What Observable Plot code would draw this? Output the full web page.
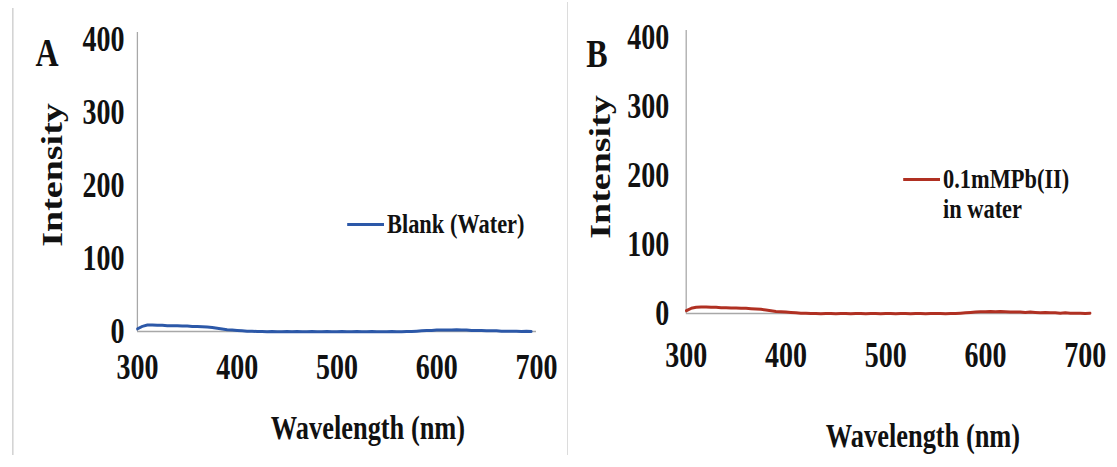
<!DOCTYPE html>
<html><head><meta charset="utf-8">
<script src="https://cdn.jsdelivr.net/npm/d3@7"></script>
<script src="https://cdn.jsdelivr.net/npm/@observablehq/plot@0.6"></script>
<style>
html,body{margin:0;padding:0;background:#fff;}
body{width:1117px;height:467px;overflow:hidden;position:relative;}
#stage{position:absolute;left:0;top:0;width:1396.25px;height:467px;transform:scaleX(0.8);transform-origin:0 0;
  font-family:"Liberation Serif","Times New Roman",serif;font-weight:bold;color:#111;}
.abs{position:absolute;white-space:nowrap;}
.panel{position:absolute;top:0;}
.vline{position:absolute;width:1.5px;background:#d4d4d4;}
</style></head><body><div id="stage"></div>
<script>
// ---- data ----
const wavelengthsA = [300,305,310,315,320,325,330,335,340,345,350,355,360,365,370,375,380,385,390,395,
  400,405,410,415,420,425,430,435,440,445,450,455,460,465,470,475,480,485,490,495,
  500,505,510,515,520,525,530,535,540,545,550,555,560,565,570,575,580,585,590,595,
  600,605,610,615,620,625,630,635,640,645,650,655,660,665,670,675,680,685,690,695];
const intensityBlank = [3.5,7,9,9,8.5,8.5,8,8,8,7.5,7.5,7,7,6.5,6,5.5,4.5,3.5,2.5,2,
  1.5,1,0.5,0.5,0,0,-0.5,0,-0.5,-0.5,0,-0.5,0,-0.5,-0.5,0,-0.5,-0.5,0,-0.5,
  -0.5,0,-0.5,-0.5,0,-0.5,-0.5,0,-0.5,-0.5,-0.5,0,-0.5,-0.5,0,0,0.5,1,1.5,1.5,
  2,2,2,2,2.5,2,2,1.5,1.5,1.5,1,1,1,0.5,0.5,0.5,0.5,0,0.5,0];

const wavelengthsB = [300,305,310,315,320,325,330,335,340,345,350,355,360,365,370,375,380,385,390,395,
  400,405,410,415,420,425,430,435,440,445,450,455,460,465,470,475,480,485,490,495,
  500,505,510,515,520,525,530,535,540,545,550,555,560,565,570,575,580,585,590,595,
  600,605,610,615,620,625,630,635,640,645,650,655,660,665,670,675,680,685,690,695,700,705];
const intensityPb = [4,7.5,9,9.5,9.5,9,9,8.5,8.5,8,8,7.5,7.5,7,6.5,6,5,4,3,2.5,
  2,1.5,1,0.5,0.5,0,0,-0.5,0,0,-0.5,0,0,-0.5,0,0,-0.5,0,0,-0.5,
  0,0,-0.5,0,0,-0.5,0,0,-0.5,0,0,0,-0.5,0,0,0.5,1,1.5,2,2.5,
  2.5,3,2.5,3,2.5,2,2,2,1.5,2,1.5,1,1.5,1,1,0.5,1,0.5,0.5,0.5,0,0.5];

const yTicks = [0,100,200,300,400];
const xTicks = [300,400,500,600,700];
const yDomain = [0,400];
const xDomain = [300,700];

// ---- layout (pre-compression pixels; stage is scaled 0.8 horizontally) ----
const C = 0.8;
const S = v => v / C;
const stage = document.getElementById("stage");
const FONT = '"Liberation Serif","Times New Roman",serif';

function panel(xs, ys, color, o) {
  const data = xs.map((w, i) => ({w, v: ys[i]}));
  return Plot.plot({
    width: o.width, height: 467,
    marginLeft: o.ml, marginRight: o.mr, marginTop: o.mt, marginBottom: o.mb,
    style: {fontFamily: FONT, fontSize: "35px", fontWeight: "bold", color: "#111",
            background: "transparent", overflow: "visible", maxWidth: "none"},
    x: {domain: xDomain},
    y: {domain: yDomain},
    marks: [
      Plot.ruleY([0], {stroke: "#a8a8a8", strokeWidth: 1.3}),
      Plot.ruleX([300], {stroke: "#a8a8a8", strokeWidth: 1.6, insetTop: -7}),
      Plot.axisY(yTicks, {tickSize: 0, tickPadding: o.yPad, label: null}),
      Plot.axisX(xTicks, {tickSize: 0, tickPadding: o.xPad, label: null}),
      Plot.line(data, {x: "w", y: "v", stroke: color, strokeWidth: 3})
    ]
  });
}

function addPanel(svg, left) {
  const d = document.createElement("div");
  d.className = "panel";
  d.style.left = left + "px";
  d.appendChild(svg);
  stage.appendChild(d);
}

function label(text, cx, cy, size, opts = {}) {
  const d = document.createElement("div");
  d.className = "abs";
  d.textContent = text;
  d.style.fontSize = size + "px";
  d.style.lineHeight = "1";
  d.style.left = S(cx) + "px";
  d.style.top = cy + "px";
  d.style.transform = "translate(-50%,-50%)" + (opts.rotate ? " rotate(-90deg)" : "");
  stage.appendChild(d);
}

function legend(lines, color, x0, x1, cy, size, lh) {
  const ln = document.createElement("div");
  ln.className = "abs";
  ln.style.left = S(x0) + "px";
  ln.style.width = S(x1 - x0) + "px";
  ln.style.top = (cy - 1.5) + "px";
  ln.style.height = "3px";
  ln.style.background = color;
  stage.appendChild(ln);
  lines.forEach((t, i) => {
    const d = document.createElement("div");
    d.className = "abs";
    d.textContent = t;
    d.style.fontSize = size + "px";
    d.style.lineHeight = lh + "px";
    d.style.left = S(x1 + 3) + "px";
    d.style.top = (cy - lh / 2 + i * lh) + "px";
    stage.appendChild(d);
  });
}

function vline(x, y0, y1) {
  const d = document.createElement("div");
  d.className = "vline";
  d.style.left = S(x) + "px";
  d.style.top = y0 + "px";
  d.style.height = (y1 - y0) + "px";
  stage.appendChild(d);
}

vline(12, 8, 455);
vline(567, 2, 455);

// Panel A
addPanel(panel(wavelengthsA, intensityBlank, "#2c58a8", {
  width: S(560), ml: S(137), mr: S(560) - S(536), mt: 39, mb: 467 - 331, yPad: S(13), xPad: 23
}), 0);

// Panel B
addPanel(panel(wavelengthsB, intensityPb, "#b03022", {
  width: S(1117 - 565), ml: S(686 - 565), mr: S(1117 - 565) - S(1085 - 565), mt: 37, mb: 467 - 313, yPad: S(17), xPad: 29
}), S(565));

// Titles and annotations
label("A", 47, 53, 40);
label("B", 597, 54, 40);
label("Intensity", 52, 175, 38, {rotate: true});
label("Intensity", 599, 167, 38, {rotate: true});
label("Wavelength (nm)", 368, 428, 33);
label("Wavelength (nm)", 923, 436, 33);

legend(["Blank (Water)"], "#2c58a8", 347, 384, 224, 28, 30);
legend(["0.1mMPb(II)", "in water"], "#b03022", 903, 940, 179, 28, 30);
</script>
</body></html>
